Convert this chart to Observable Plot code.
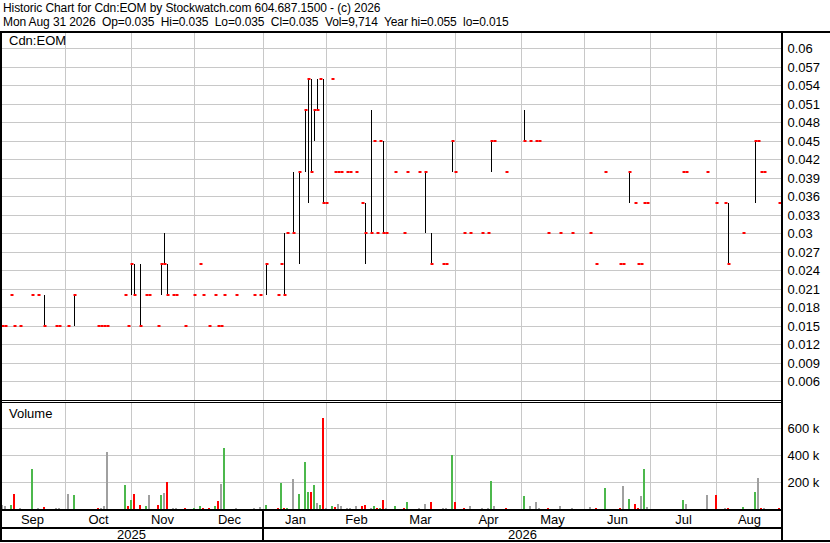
<!DOCTYPE html>
<html><head><meta charset="utf-8">
<script src="https://cdn.jsdelivr.net/npm/d3@7"></script>
<script src="https://cdn.jsdelivr.net/npm/@observablehq/plot@0.6"></script>
<style>
html,body{margin:0;padding:0;background:#fff;}
#root{position:relative;width:830px;height:543px;overflow:hidden;font-family:"Liberation Sans",Arial,sans-serif;}
.ln{position:absolute;background:#000;}
.t{position:absolute;white-space:pre;font-size:13px;color:#000;line-height:13px;}
.t.title{font-size:12px;line-height:12px;letter-spacing:-0.1px;}
.p{position:absolute;left:0;overflow:visible;}
</style></head><body><div id="root"></div>
<script>
// ---------- texts ----------
const titleLine1 = "Historic Chart for Cdn:EOM by Stockwatch.com 604.687.1500 - (c) 2026";
const titleLine2 = "Mon Aug 31 2026  Op=0.035  Hi=0.035  Lo=0.035  Cl=0.035  Vol=9,714  Year hi=0.055  lo=0.015";
const symbolLabel = "Cdn:EOM";
const volumeLabel = "Volume";

// ---------- daily data (days with trades) ----------
const dates = [
"2025-09-02","2025-09-03","2025-09-05","2025-09-08","2025-09-10","2025-09-16","2025-09-18","2025-09-22","2025-09-26","2025-09-29",
"2025-10-02","2025-10-06","2025-10-16","2025-10-17","2025-10-20","2025-10-21","2025-10-29","2025-10-30","2025-10-31",
"2025-11-03","2025-11-05","2025-11-07","2025-11-10","2025-11-13","2025-11-14","2025-11-17","2025-11-18","2025-11-20","2025-11-21","2025-11-26",
"2025-12-01","2025-12-03","2025-12-04","2025-12-08","2025-12-10","2025-12-11","2025-12-12","2025-12-15","2025-12-19","2025-12-29","2025-12-31",
"2026-01-02","2026-01-08","2026-01-09","2026-01-12","2026-01-13","2026-01-15","2026-01-19","2026-01-21","2026-01-22","2026-01-23","2026-01-26","2026-01-27","2026-01-28","2026-01-29","2026-01-30",
"2026-02-03","2026-02-04","2026-02-05","2026-02-06","2026-02-10","2026-02-11","2026-02-13","2026-02-17","2026-02-18","2026-02-20","2026-02-23","2026-02-24","2026-02-25","2026-02-26","2026-02-27",
"2026-03-04","2026-03-09","2026-03-10","2026-03-16","2026-03-18","2026-03-20","2026-03-26","2026-03-27","2026-03-31",
"2026-04-01","2026-04-06","2026-04-08","2026-04-14","2026-04-16","2026-04-17","2026-04-20","2026-04-24",
"2026-05-04","2026-05-06","2026-05-08","2026-05-11","2026-05-14","2026-05-20","2026-05-26",
"2026-06-03","2026-06-05","2026-06-10","2026-06-17","2026-06-18","2026-06-22","2026-06-24","2026-06-25","2026-06-26","2026-06-29","2026-06-30",
"2026-07-16","2026-07-17","2026-07-28","2026-07-31",
"2026-08-05","2026-08-06","2026-08-13","2026-08-19","2026-08-20","2026-08-21","2026-08-24","2026-08-31"
];
const high = [
0.015,0.015,0.02,0.015,0.015,0.02,0.02,0.02,0.015,0.015,
0.015,0.02,0.015,0.015,0.015,0.015,0.02,0.015,0.025,
0.025,0.025,0.02,0.02,0.015,0.025,0.03,0.025,0.02,0.02,0.015,
0.02,0.025,0.02,0.015,0.02,0.015,0.015,0.02,0.02,0.02,0.02,
0.025,0.02,0.025,0.03,0.03,0.04,0.04,0.05,0.055,0.055,0.05,0.055,0.055,0.055,0.035,
0.055,0.04,0.04,0.04,0.04,0.04,0.04,0.035,0.035,0.05,0.045,0.03,0.045,0.045,0.03,
0.04,0.03,0.04,0.04,0.04,0.03,0.025,0.025,0.045,
0.04,0.03,0.03,0.03,0.03,0.045,0.045,0.04,
0.05,0.045,0.045,0.045,0.03,0.03,0.03,
0.03,0.025,0.04,0.025,0.025,0.04,0.035,0.025,0.025,0.035,0.035,
0.04,0.04,0.04,0.035,
0.035,0.035,0.03,0.045,0.045,0.04,0.04,0.035
];
const low = [
0.015,0.015,0.02,0.015,0.015,0.02,0.02,0.015,0.015,0.015,
0.015,0.015,0.015,0.015,0.015,0.015,0.02,0.015,0.02,
0.02,0.015,0.02,0.02,0.015,0.02,0.025,0.02,0.02,0.02,0.015,
0.02,0.025,0.02,0.015,0.02,0.015,0.015,0.02,0.02,0.02,0.02,
0.02,0.02,0.025,0.02,0.03,0.03,0.025,0.04,0.035,0.04,0.045,0.05,0.055,0.035,0.035,
0.055,0.04,0.04,0.04,0.04,0.04,0.04,0.035,0.025,0.03,0.045,0.03,0.045,0.03,0.03,
0.04,0.03,0.04,0.04,0.03,0.025,0.025,0.025,0.04,
0.04,0.03,0.03,0.03,0.03,0.04,0.045,0.04,
0.045,0.045,0.045,0.045,0.03,0.03,0.03,
0.03,0.025,0.04,0.025,0.025,0.035,0.035,0.025,0.025,0.035,0.035,
0.04,0.04,0.04,0.035,
0.035,0.025,0.03,0.035,0.045,0.04,0.04,0.035
];
const close = [
0.015,0.015,0.02,0.015,0.015,0.02,0.02,0.015,0.015,0.015,
0.015,0.02,0.015,0.015,0.015,0.015,0.02,0.015,0.025,
0.02,0.015,0.02,0.02,0.015,0.025,0.025,0.02,0.02,0.02,0.015,
0.02,0.025,0.02,0.015,0.02,0.015,0.015,0.02,0.02,0.02,0.02,
0.025,0.02,0.025,0.02,0.03,0.03,0.04,0.05,0.055,0.04,0.05,0.05,0.055,0.035,0.035,
0.055,0.04,0.04,0.04,0.04,0.04,0.04,0.035,0.03,0.03,0.045,0.03,0.045,0.03,0.03,
0.04,0.03,0.04,0.04,0.04,0.025,0.025,0.025,0.045,
0.04,0.03,0.03,0.03,0.03,0.045,0.045,0.04,
0.045,0.045,0.045,0.045,0.03,0.03,0.03,
0.03,0.025,0.04,0.025,0.025,0.04,0.035,0.025,0.025,0.035,0.035,
0.04,0.04,0.04,0.035,
0.035,0.025,0.03,0.045,0.045,0.04,0.04,0.035
];
const volume = [
30000,20000,30000,114000,10000,300000,10000,17000,10000,10000,
114000,106000,8000,8000,26000,427000,181000,26000,70000,
114000,32000,26000,107000,32000,107000,121000,203000,8000,8000,8000,
8000,26000,8000,8000,26000,57000,189000,457000,8000,8000,17000,
32000,8000,196000,8000,8000,226000,114000,352000,129000,129000,181000,47000,32000,673000,8000,
26000,17000,40000,26000,8000,8000,26000,26000,32000,8000,26000,8000,8000,70000,8000,
26000,8000,54000,8000,40000,54000,8000,8000,405000,
54000,8000,26000,8000,8000,211000,26000,8000,
99000,26000,54000,8000,8000,26000,8000,
17000,8000,159000,8000,174000,77000,40000,8000,99000,300000,17000,
70000,40000,107000,107000,
8000,8000,17000,129000,233000,8000,8000,9714
];

// ---------- axes ----------
const priceTicks = [0.006,0.009,0.012,0.015,0.018,0.021,0.024,0.027,0.03,0.033,0.036,0.039,0.042,0.045,0.048,0.051,0.054,0.057,0.06];
const volumeTicks = [200000,400000,600000];
const volumeTickLabels = ["200 k","400 k","600 k"];
const months = ["Sep","Oct","Nov","Dec","Jan","Feb","Mar","Apr","May","Jun","Jul","Aug"];
const monthStarts = ["2025-09-01","2025-10-01","2025-11-01","2025-12-01","2026-01-01","2026-02-01","2026-03-01","2026-04-01","2026-05-01","2026-06-01","2026-07-01","2026-08-01","2026-09-01"];
const years = ["2025","2026"];
const yearStarts = ["2025-09-01","2026-01-01","2026-09-01"];

// ---------- colours ----------
const UP = "#4cb84c", DOWN = "#ff0000", FLAT = "#a0a0a0", GRID = "#c8c8c8";

// weekday position (weekends collapse onto the preceding Friday)
const DAY = 86400000, origin = Date.UTC(2025, 8, 1);
function pos(s) {
  const [Y, M, D] = s.split("-").map(Number);
  let t = Date.UTC(Y, M - 1, D);
  const dow = new Date(t).getUTCDay();
  if (dow === 6) t -= DAY; else if (dow === 0) t -= 2 * DAY;
  let n = 0;
  for (let u = origin; u < t; u += DAY) { const w = new Date(u).getUTCDay(); if (w !== 0 && w !== 6) n++; }
  return n;
}

const rows = dates.map((d, i) => ({
  i: pos(d), hi: high[i], lo: low[i], cl: close[i], v: volume[i],
  prev: i ? close[i - 1] : close[i]
}));
const monthPos = monthStarts.map(pos);
const monthMid = months.map((m, k) => ({label: m, x: (monthPos[k] + monthPos[k + 1]) / 2}));
const yearPos = yearStarts.map(pos);
const yearMid = years.map((y, k) => ({label: y, x: (yearPos[k] + yearPos[k + 1]) / 2}));
const yearBreaks = yearPos.slice(1, -1);

const FONT = {fontFamily: "'Liberation Sans', Arial, sans-serif", fontSize: "13px", color: "#000", background: "transparent", overflow: "visible"};
const X = {domain: [1 / 3, 261], axis: null, round: true};
const W = 830, MR = 48;

const root = document.getElementById("root");
function place(el, top) { el.classList.add("p"); el.style.top = top + "px"; root.appendChild(el); }

// price panel (y 33..400)
const price = Plot.plot({
  width: W, height: 367, marginTop: 0, marginBottom: 0, marginLeft: 0, marginRight: MR,
  style: FONT, x: X,
  y: {domain: [0.003, 0.0625], round: true},
  marks: [
    Plot.gridY(priceTicks, {stroke: GRID, strokeOpacity: 1}),
    Plot.gridX(monthPos.slice(1, -1), {stroke: GRID, strokeOpacity: 1}),
    Plot.ruleX(rows.filter(r => r.hi > r.lo), {x: "i", y1: "lo", y2: "hi", stroke: "#000", strokeWidth: 1}),
    Plot.ruleY(rows, {y: "cl", x1: "i", x2: r => r.i + 1, stroke: DOWN, strokeWidth: 2, dx: -0.5, dy: -0.5}),
    Plot.axisY(priceTicks, {anchor: "right", tickSize: 0, tickPadding: 5, tickFormat: d => String(d), label: null, fill: "#000"})
  ]
});
place(price, 33);

// volume panel (y 403..509)
const vol = Plot.plot({
  width: W, height: 106, marginTop: 0, marginBottom: 0, marginLeft: 0, marginRight: MR,
  style: FONT, x: X,
  y: {domain: [0, 788000], round: true},
  marks: [
    Plot.gridY(volumeTicks, {stroke: GRID, strokeOpacity: 1}),
    Plot.gridX(monthPos.slice(1, -1), {stroke: GRID, strokeOpacity: 1}),
    Plot.rect(rows, {x1: r => r.i - 1 / 3, x2: r => r.i + 1 / 3, y1: 0, y2: "v",
      fill: r => r.cl > r.prev ? UP : r.cl < r.prev ? DOWN : FLAT}),
    Plot.axisY(volumeTicks, {anchor: "right", tickSize: 0, tickPadding: 5,
      tickFormat: d => volumeTickLabels[volumeTicks.indexOf(d)], label: null, fill: "#000"})
  ]
});
place(vol, 403);

// month row (y 511..527)
const mrow = Plot.plot({
  width: W, height: 16, marginTop: 0, marginBottom: 0, marginLeft: 0, marginRight: MR,
  style: FONT, x: X,
  marks: [
    Plot.text(monthMid, {x: "x", text: "label", frameAnchor: "middle", fill: "#000"}),
    Plot.ruleX(yearBreaks, {stroke: "#000", strokeWidth: 2, dx: -0.5})
  ]
});
place(mrow, 511);

// year row (y 528..541)
const yrow = Plot.plot({
  width: W, height: 13, marginTop: 0, marginBottom: 0, marginLeft: 0, marginRight: MR,
  style: FONT, x: X,
  marks: [
    Plot.ruleX(yearBreaks, {stroke: "#000", strokeWidth: 2, dx: -0.5}),
    Plot.text(yearMid, {x: "x", text: "label", frameAnchor: "middle", fill: "#000"})
  ]
});
place(yrow, 528);

// frame lines
function line(l, t, w, h) { const d = document.createElement("div"); d.className = "ln"; Object.assign(d.style, {left: l + "px", top: t + "px", width: w + "px", height: h + "px"}); root.appendChild(d); }
line(0, 31, 830, 2);     // top
line(0, 31, 2, 511);     // left
line(781, 31, 2, 511);   // right of plot area
line(0, 400, 782, 1);    // double separator
line(0, 402, 782, 1);
line(0, 509, 782, 2);    // volume bottom
line(0, 527, 782, 2);    // month row bottom
line(0, 540, 830, 2);    // bottom

// texts
function text(s, l, t, cls) { const d = document.createElement("div"); d.className = "t" + (cls ? " " + cls : ""); d.textContent = s; d.style.left = l + "px"; d.style.top = t + "px"; root.appendChild(d); }
text(titleLine1, 3, 1.5, "title");
text(titleLine2, 3, 16.3, "title");
text(symbolLabel, 9, 34);
text(volumeLabel, 9, 407);
</script></body></html>
